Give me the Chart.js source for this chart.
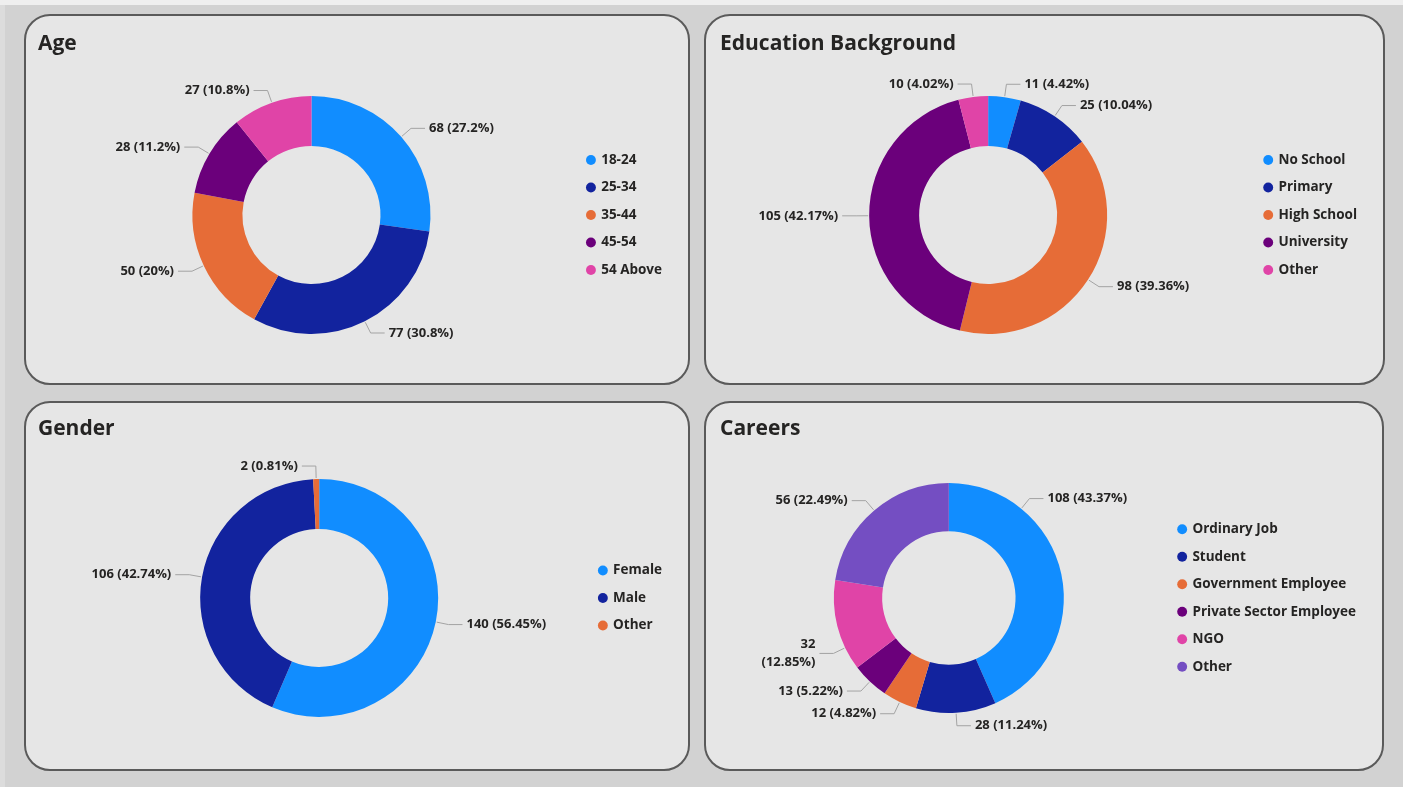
<!DOCTYPE html>
<html>
<head>
<meta charset="utf-8">
<script src="https://cdn.jsdelivr.net/npm/chart.js@4.4.1/dist/chart.umd.min.js"></script>
<style>
  html, body { margin:0; padding:0; }
  body { width:1403px; height:787px; background:#d2d2d2; position:relative; overflow:hidden; font-family:'Open Sans', sans-serif; }
  .strip-top { position:absolute; left:0; top:0; width:1403px; height:5px; background:#efefef; }
  .strip-left { position:absolute; left:0; top:5px; width:5px; height:782px; background:#dcdcdc; }
  .panel { position:absolute; box-sizing:border-box; border:2px solid #5a5a5a; border-radius:26px; background:#e6e6e6; }
  .panel canvas { position:absolute; left:0; top:0; }
  .title { position:absolute; font-family:'Open Sans', sans-serif; font-weight:700; font-size:21px; line-height:28px; color:#252423; z-index:2; white-space:nowrap; }
</style>
</head>
<body>
<div class="strip-top"></div>
<div class="strip-left"></div>

<div class="panel" style="left:24px; top:14px; width:666px; height:371px;">
  <div class="title" style="left:12px; top:12px;">Age</div>
  <canvas id="cAge" width="662" height="367"></canvas>
</div>
<div class="panel" style="left:704px; top:14px; width:681px; height:371px;">
  <div class="title" style="left:14px; top:12px;">Education Background</div>
  <canvas id="cEdu" width="677" height="367"></canvas>
</div>
<div class="panel" style="left:24px; top:401px; width:666px; height:370px;">
  <div class="title" style="left:12px; top:10px;">Gender</div>
  <canvas id="cGender" width="662" height="366"></canvas>
</div>
<div class="panel" style="left:704px; top:401px; width:680px; height:370px;">
  <div class="title" style="left:14px; top:10px;">Careers</div>
  <canvas id="cCareer" width="676" height="366"></canvas>
</div>

<script>
// ---------- data ----------
const ageLabels = ['18-24', '25-34', '35-44', '45-54', '54 Above'];
const ageValues = [68, 77, 50, 28, 27];

const eduLabels = ['No School', 'Primary', 'High School', 'University', 'Other'];
const eduValues = [11, 25, 98, 105, 10];

const genderLabels = ['Female', 'Male', 'Other'];
const genderValues = [140, 106, 2];

const careerLabels = ['Ordinary Job', 'Student', 'Government Employee', 'Private Sector Employee', 'NGO', 'Other'];
const careerValues = [108, 28, 12, 13, 32, 56];

// ---------- palette ----------
const C_BLUE = '#118DFF', C_NAVY = '#12239E', C_ORANGE = '#E66C37',
      C_PURPLE = '#6B007B', C_PINK = '#E044A7', C_VIOLET = '#744EC2';

const TEXT = '#252423';

// ---------- data-label plugin with leader lines ----------
const leaderLabels = {
  id: 'leaderLabels',
  afterDatasetsDraw(chart, args, opts) {
    const ctx = chart.ctx;
    const meta = chart.getDatasetMeta(0);
    const data = chart.data.datasets[0].data;
    const total = data.reduce((a, b) => a + b, 0);
    ctx.save();
    ctx.font = opts.font;
    ctx.fillStyle = opts.color;
    ctx.strokeStyle = opts.lineColor;
    ctx.lineWidth = 1;
    ctx.textBaseline = 'middle';
    meta.data.forEach((arc, i) => {
      const p0 = arc.getProps(['x', 'y', 'startAngle', 'endAngle', 'outerRadius'], true);
      const pct = parseFloat((data[i] / total * 100).toFixed(2));
      const text = data[i] + ' (' + pct + '%)';
      const w = ctx.measureText(text).width;
      const place = (f) => {
        const a = p0.startAngle + (p0.endAngle - p0.startAngle) * f;
        const c = Math.cos(a), s = Math.sin(a);
        const right = c >= 0;
        const sx = p0.x + (p0.outerRadius + 1) * c, sy = p0.y + (p0.outerRadius + 1) * s;
        const ex = p0.x + (p0.outerRadius + opts.elbow) * c, ey = p0.y + (p0.outerRadius + opts.elbow) * s;
        const hx = ex + (right ? opts.arm : -opts.arm);
        const tx = hx + (right ? opts.gap : -opts.gap);
        const fits = right ? (tx + w <= p0.x + opts.extent) : (tx - w >= p0.x - opts.extent);
        return { right, sx, sy, ex, ey, hx, tx, fits };
      };
      let p = [0.5, 0.25, 0.75].map(place).find(q => q.fits);
      let lines = [text];
      if (!p) {
        p = place(0.25);
        lines = [String(data[i]), '(' + pct + '%)'];
      }
      ctx.beginPath();
      ctx.moveTo(p.sx, p.sy);
      ctx.lineTo(p.ex, p.ey);
      ctx.lineTo(p.hx, p.ey);
      ctx.stroke();
      ctx.textAlign = p.right ? 'left' : 'right';
      const lh = opts.lineHeight;
      lines.forEach((ln, k) => {
        const yy = p.ey + (k - (lines.length - 1) / 2) * lh;
        ctx.fillText(ln, p.tx, yy);
      });
    });
    ctx.restore();
  }
};

function makeDonut(id, labels, values, colors, cfg) {
  return new Chart(document.getElementById(id), {
    type: 'doughnut',
    data: {
      labels: labels,
      datasets: [{ data: values, backgroundColor: colors, borderWidth: 0, hoverOffset: 0 }]
    },
    options: {
      responsive: false,
      animation: false,
      radius: cfg.radius,
      cutout: '58%',
      layout: { padding: cfg.padding },
      plugins: {
        legend: {
          position: 'right',
          labels: {
            usePointStyle: true,
            pointStyle: 'circle',
            boxWidth: 7,
            boxHeight: 7,
            padding: 14,
            color: TEXT,
            font: { family: 'Open Sans', weight: 'bold', size: 13.5 }
          }
        },
        tooltip: { enabled: false },
        leaderLabels: {
          font: 'bold 13px "Open Sans"',
          color: TEXT,
          lineColor: '#a3a3a3',
          elbow: 13,
          arm: 14,
          gap: 4,
          lineHeight: 18,
          extent: cfg.extent
        }
      }
    },
    plugins: [leaderLabels]
  });
}

function build() {
  makeDonut('cAge', ageLabels, ageValues, [C_BLUE, C_NAVY, C_ORANGE, C_PURPLE, C_PINK],
    { radius: 119, extent: 250, padding: { left: 23.5, right: 16, top: 60, bottom: 29 } });
  makeDonut('cEdu', eduLabels, eduValues, [C_BLUE, C_NAVY, C_ORANGE, C_PURPLE, C_PINK],
    { radius: 119, extent: 250, padding: { left: 19.6, right: 16, top: 60, bottom: 29 } });
  makeDonut('cGender', genderLabels, genderValues, [C_BLUE, C_NAVY, C_ORANGE],
    { radius: 119, extent: 250, padding: { left: 27, right: 16, top: 50, bottom: 26 } });
  makeDonut('cCareer', careerLabels, careerValues, [C_BLUE, C_NAVY, C_ORANGE, C_PURPLE, C_PINK, C_VIOLET],
    { radius: 115, extent: 190, padding: { left: 27, right: 16, top: 50, bottom: 26 } });
}

Promise.all([
  document.fonts.load('bold 13px "Open Sans"'),
  document.fonts.load('bold 21px "Open Sans"')
]).then(build, build);
</script>
</body>
</html>
